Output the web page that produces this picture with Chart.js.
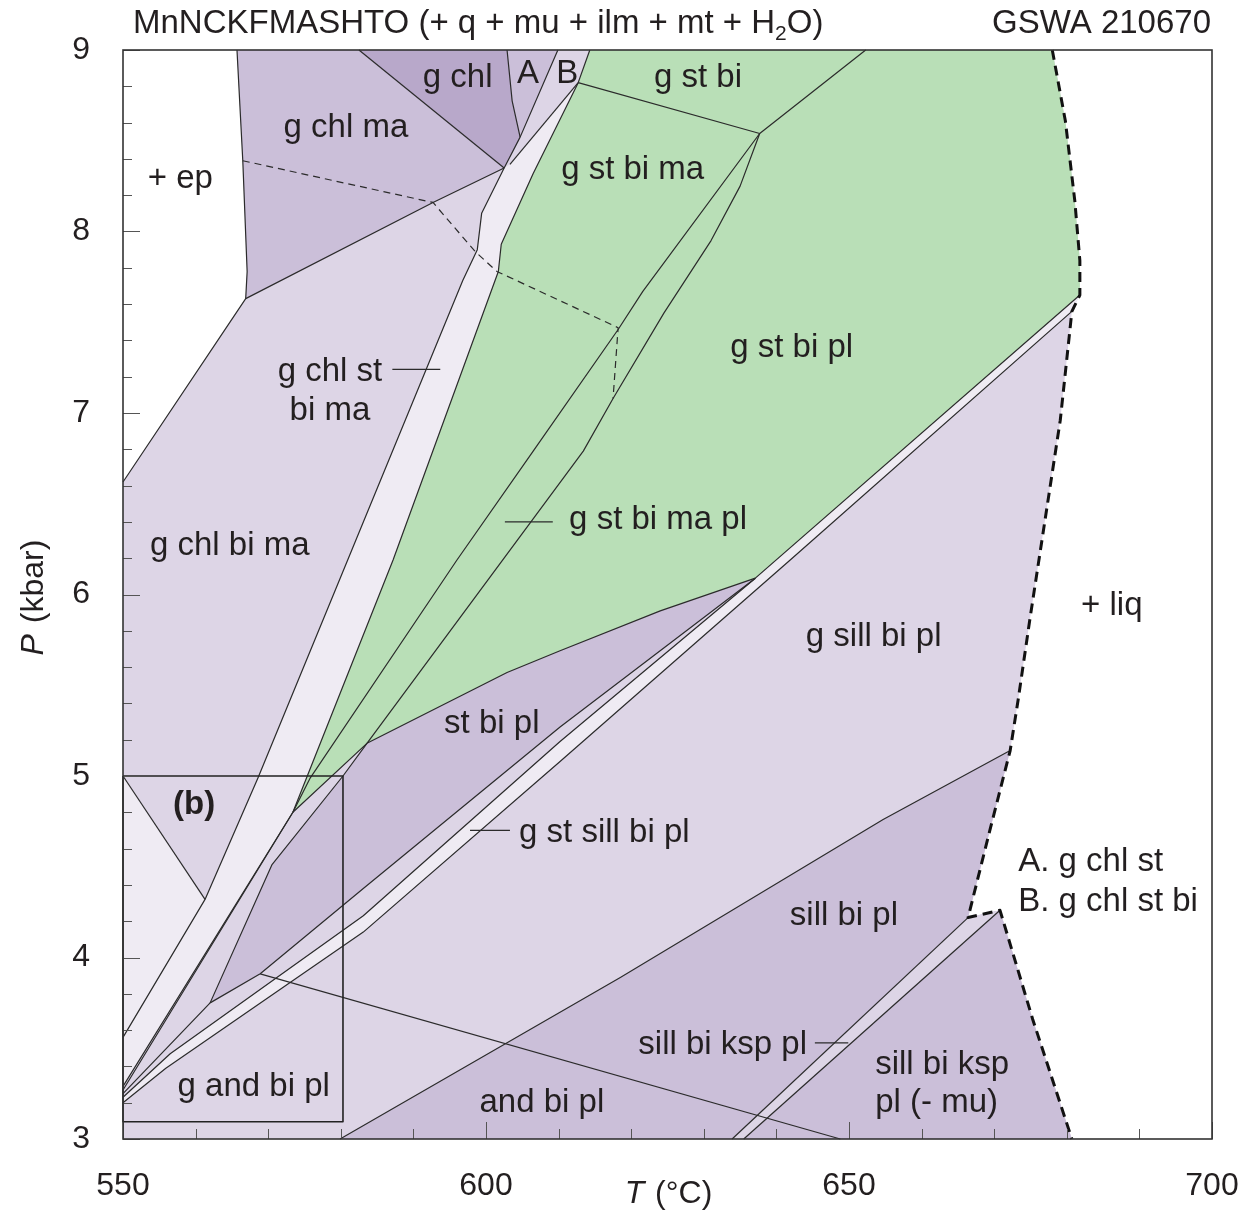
<!DOCTYPE html>
<html><head><meta charset="utf-8">
<script src="https://cdn.jsdelivr.net/npm/chart.js@4.4.1/dist/chart.umd.min.js"></script>
<style>html,body{margin:0;padding:0;background:#fff;}#wrap{width:1247px;height:1211px;position:relative;}</style>
</head><body><div id="wrap"><canvas id="c"></canvas></div>
<script>
// ---------- axes ----------
const T_MIN = 550, T_MAX = 700, P_MIN = 3, P_MAX = 9;
const xTickLabels = [550, 600, 650, 700];
const yTickLabels = [3, 4, 5, 6, 7, 8, 9];
const xMinorStep = 10, yMinorStep = 0.2;

// ---------- phase-field polygons [T (°C), P (kbar)] ----------
const fieldAll = [[565.7,9],[566.5,8.39],[567.1,7.78],[566.9,7.63],[550,6.62],[550,3],[680.7,3],[675.3,3.66],[670.8,4.26],[666.4,4.22],[669.4,4.70],[672.2,5.14],[673.3,5.42],[674.9,5.86],[677.0,6.41],[679.1,6.96],[680.7,7.56],[681.8,7.65],[681.8,7.84],[681.1,8.17],[679.8,8.61],[678.0,9]];
const fieldGChlMa = [[565.7,9],[582.5,9],[602.5,8.35],[592.7,8.16],[566.9,7.63],[567.1,7.78],[566.5,8.39]];
const fieldA = [[602.9,9],[609.9,9],[604.7,8.52],[603.6,8.72]];
const fieldStBiPl = [[583.6,5.18],[602.9,5.57],[610.2,5.69],[624.0,5.91],[637.1,6.09],[610.2,5.27],[583.1,4.38],[568.9,3.91],[562.0,3.75],[570.5,4.51],[580.3,5.00]];
const fieldSillBiPl = [[579.9,3],[618.5,3.89],[654.7,4.76],[672.2,5.14],[669.4,4.70],[666.4,4.22],[670.8,4.26],[675.3,3.66],[680.7,3]];
const fieldGChl = [[582.5,9],[602.9,9],[603.6,8.72],[604.7,8.52],[602.5,8.35]];
const fieldGreen = [[614.3,9],[678.0,9],[679.8,8.61],[681.1,8.17],[681.8,7.84],[681.8,7.65],[637.1,6.09],[624.0,5.91],[610.2,5.69],[602.9,5.57],[583.6,5.18],[573.4,4.80],[587.2,6.19],[601.7,7.78],[602.1,7.93],[606.5,8.32],[612.7,8.82]];
const fieldStrip = [[602.5,8.35],[599.4,8.10],[598.8,7.90],[596.8,7.73],[568.6,4.99],[561.3,4.32],[550,3.56],[550,3.29],[573.4,4.80],[587.2,6.19],[601.7,7.78],[602.1,7.93],[606.5,8.32],[612.7,8.82],[603.3,8.37]];
const fieldLowT = [[550,5.0],[561.3,4.32],[550,3.56]];
const fieldBand = [[681.8,7.65],[637.1,6.09],[610.2,5.19],[583.1,4.23],[556.5,3.47],[550,3.23],[550,3.20],[555.9,3.39],[583.1,4.14],[610.2,5.08],[641.9,6.19],[680.7,7.56]];
const fieldKsp = [[633.9,3],[666.4,4.22],[670.8,4.26],[635.5,3]];

// ---------- boundary lines ----------
const lineEp = [[565.7,9],[566.5,8.39],[567.1,7.78],[566.9,7.63],[550,6.62]];
const lineGChlMaLow = [[566.9,7.63],[592.7,8.16],[602.5,8.35]];
const lineGChlTop = [[582.5,9],[602.5,8.35]];
const lineGChlA = [[602.9,9],[603.6,8.72],[604.7,8.52]];
const lineL1 = [[609.9,9],[604.7,8.52],[602.5,8.35],[599.4,8.10],[598.8,7.90],[596.8,7.73],[568.6,4.99],[561.3,4.32],[550,3.56]];
const lineStripTop = [[612.7,8.82],[603.3,8.37]];
const lineL2 = [[614.3,9],[612.7,8.82],[606.5,8.32],[602.1,7.93],[601.7,7.78],[587.2,6.19],[573.4,4.80],[550,3.29]];
const lineGStBi = [[612.7,8.82],[637.7,8.54],[652.3,9]];
const lineL3 = [[637.7,8.54],[621.6,7.67],[618.2,7.46],[606.5,6.79],[596.0,6.19],[575.8,4.99],[573.4,4.80],[550,3.27]];
const lineL4 = [[637.7,8.54],[635.0,8.25],[631.0,7.95],[624.5,7.55],[617.5,7.08],[613.4,6.79],[583.6,5.18]];
const lineGreenLow = [[681.8,7.65],[637.1,6.09],[624.0,5.91],[610.2,5.69],[602.9,5.57],[583.6,5.18],[573.4,4.80]];
const lineB = [[637.1,6.09],[610.2,5.19],[583.1,4.23],[556.5,3.47],[550,3.23]];
const lineC = [[680.7,7.56],[641.9,6.19],[610.2,5.08],[583.1,4.14],[555.9,3.39],[550,3.20]];
const lineA = [[637.1,6.09],[610.2,5.27],[583.1,4.38],[568.9,3.91],[562.0,3.75],[550,3.25]];
const lineStBiPlLeft = [[583.6,5.18],[580.3,5.00],[570.5,4.51],[562.0,3.75]];
const lineChlOut = [[550,5.0],[561.3,4.32]];
const lineAnd = [[568.9,3.91],[648.8,3]];
const lineGOut = [[579.9,3],[618.5,3.89],[654.7,4.76],[672.2,5.14]];
const lineKsp1 = [[633.9,3],[666.4,4.22]];
const lineKsp2 = [[635.5,3],[670.8,4.26]];
const lineEpDash = [[566.5,8.39],[592.7,8.16],[598.5,7.89],[601.5,7.78],[618.2,7.47],[617.5,7.08]];
const lineLiq = [[678.0,9],[679.8,8.61],[681.1,8.17],[681.8,7.84],[681.8,7.65],[680.7,7.56],[679.1,6.96],[677.0,6.41],[674.9,5.86],[673.3,5.42],[672.2,5.14],[669.4,4.70],[666.4,4.22],[670.8,4.26],[675.3,3.66],[680.7,3]];
const leader1 = [[587.1,7.24],[593.7,7.24]];
const leader2 = [[602.6,6.40],[609.2,6.40]];
const leader3 = [[597.8,4.70],[603.3,4.70]];
const leader4 = [[645.3,3.53],[649.9,3.53]];
const boxB = [[550,5.0],[580.3,5.0],[580.3,3.095],[550,3.095],[550,5.0]];

// ---------- field labels [text, T, P, align, bold] ----------
const fieldLabels = [
 ['g chl',596.1,8.86],['A',605.8,8.88],['B',611.2,8.88],['g st bi',629.2,8.86],
 ['g chl ma',580.7,8.58],['+ ep',557.9,8.30],['g st bi ma',620.2,8.35],['g st bi pl',642.1,7.37],
 ['g chl st',578.5,7.24],['bi ma',578.5,7.02],['g chl bi ma',564.7,6.28],['g st bi ma pl',623.7,6.42],
 ['+ liq',686.2,5.95],['g sill bi pl',653.4,5.78],['st bi pl',600.8,5.30],['(b)',559.8,4.85,'center',true],
 ['g st sill bi pl',616.3,4.70],['A. g chl st',673.3,4.54,'left'],['B. g chl st bi',673.3,4.32,'left'],
 ['sill bi pl',649.3,4.24],['sill bi ksp pl',632.6,3.53],['sill bi ksp',653.6,3.42,'left'],['pl (- mu)',653.6,3.21,'left'],
 ['g and bi pl',568.0,3.30],['and bi pl',607.7,3.21]
];
const titleLeft = ['MnNCKFMASHTO (+ q + mu + ilm + mt + H', '2', 'O)'];
const titleRight = 'GSWA 210670';

// ---------- styles ----------
const FONT = '"Liberation Sans", Arial, Helvetica, sans-serif';
const INK = '#231f20';
const LIGHT = '#ddd5e6', MED = '#cbbfd9', DARK = '#b8a8ca', GREEN = '#b9dfb7', PALE = '#efebf3';

const pts = a => a.map(([x, y]) => ({x, y}));
const closed = a => pts(a.concat([a[0]]));

const layers = [];
[[fieldAll,LIGHT],[fieldGChlMa,MED],[fieldA,MED],[fieldStBiPl,MED],[fieldSillBiPl,MED],[fieldGChl,DARK],
 [fieldGreen,GREEN],[fieldStrip,PALE],[fieldLowT,PALE],[fieldBand,PALE],[fieldKsp,LIGHT]].forEach(([f,c]) => {
  layers.push({data: closed(f), backgroundColor: c, borderColor: 'rgba(0,0,0,0)', borderWidth: 0, fill: 'shape'});
});
[lineEp,lineGChlMaLow,lineGChlTop,lineGChlA,lineL1,lineStripTop,lineL2,lineGStBi,lineL3,lineL4,lineGreenLow,
 lineB,lineC,lineA,lineStBiPlLeft,lineChlOut,lineAnd,lineGOut,lineKsp1,lineKsp2,leader1,leader2,leader3,leader4].forEach(l => {
  layers.push({data: pts(l), borderColor: '#2b2b2b', borderWidth: 1.2, fill: false});
});
layers.push({data: pts(lineEpDash), borderColor: '#2b2b2b', borderWidth: 1.2, borderDash: [7,5], fill: false});
layers.push({data: pts(lineLiq), borderColor: '#111', borderWidth: 3, borderDash: [10,6], fill: false});
layers.push({data: pts(boxB), borderColor: '#222', borderWidth: 1.6, fill: false});
const N = layers.length;
layers.forEach((d, i) => { d.order = N - i; d.pointRadius = 0; d.tension = 0; d.clip = false; });

const decor = {
  id: 'decor',
  afterDatasetsDraw(chart) {
    const {ctx, chartArea: a, scales: {x, y}} = chart;
    ctx.save();
    // inward ticks
    ctx.strokeStyle = '#555'; ctx.lineWidth = 1;
    const nY = Math.round((P_MAX - P_MIN) / yMinorStep);
    for (let i = 0; i <= nY; i++) {
      const v = P_MIN + i * yMinorStep, py = Math.round(y.getPixelForValue(v)) + 0.5;
      const len = (i % 5 === 0) ? 17 : 9;
      ctx.beginPath(); ctx.moveTo(a.left, py); ctx.lineTo(a.left + len, py); ctx.stroke();
    }
    for (let t = T_MIN; t <= T_MAX; t += xMinorStep) {
      const px = Math.round(x.getPixelForValue(t)) + 0.5;
      const len = (t % 50 === 0) ? 17 : 10;
      ctx.beginPath(); ctx.moveTo(px, a.bottom); ctx.lineTo(px, a.bottom - len); ctx.stroke();
    }
    // frame
    ctx.strokeStyle = '#333'; ctx.lineWidth = 1.6;
    ctx.strokeRect(a.left, a.top, a.right - a.left, a.bottom - a.top);
    // field labels
    ctx.fillStyle = INK; ctx.textBaseline = 'middle';
    for (const [t, T, P, al, b] of fieldLabels) {
      ctx.font = (b ? 'bold ' : '') + '33px ' + FONT;
      ctx.textAlign = al || 'center';
      ctx.fillText(t, x.getPixelForValue(T), y.getPixelForValue(P) + 2);
    }
    // title
    ctx.textBaseline = 'alphabetic'; ctx.textAlign = 'left';
    ctx.font = '33px ' + FONT;
    let tx = a.left + 10; const ty = a.top - 17;
    ctx.fillText(titleLeft[0], tx, ty); tx += ctx.measureText(titleLeft[0]).width;
    ctx.font = '21px ' + FONT; ctx.fillText(titleLeft[1], tx, ty + 7); tx += ctx.measureText(titleLeft[1]).width;
    ctx.font = '33px ' + FONT; ctx.fillText(titleLeft[2], tx, ty);
    ctx.textAlign = 'right'; ctx.fillText(titleRight, a.right - 1, ty);
    // axis titles
    const drawMixed = (cx, cy, it, rest) => {
      ctx.font = 'italic 32px ' + FONT; const w1 = ctx.measureText(it).width;
      ctx.font = '32px ' + FONT; const w2 = ctx.measureText(rest).width;
      let sx = cx - (w1 + w2) / 2;
      ctx.textAlign = 'left';
      ctx.font = 'italic 32px ' + FONT; ctx.fillText(it, sx, cy);
      ctx.font = '32px ' + FONT; ctx.fillText(rest, sx + w1 + 2, cy);
    };
    drawMixed((a.left + a.right) / 2, a.bottom + 64, 'T', ' (°C)');
    ctx.save(); ctx.translate(43, (a.top + a.bottom) / 2 + 4); ctx.rotate(-Math.PI / 2);
    drawMixed(0, 0, 'P', ' (kbar)'); ctx.restore();
    ctx.restore();
  }
};

new Chart(document.getElementById('c'), {
  type: 'line',
  data: {datasets: layers},
  options: {
    responsive: true, maintainAspectRatio: false, animation: false, events: [],
    layout: {padding: {top: 50, right: 35, left: 0, bottom: 0}},
    plugins: {legend: {display: false}, tooltip: {enabled: false}, filler: {propagate: false}},
    elements: {point: {radius: 0}, line: {tension: 0, borderJoinStyle: 'round'}},
    scales: {
      x: {type: 'linear', min: T_MIN, max: T_MAX,
          afterFit: s => { s.height = 72; s.paddingLeft = 0; s.paddingRight = 0; },
          afterBuildTicks: s => { s.ticks = xTickLabels.map(v => ({value: v})); },
          ticks: {padding: 28, color: INK, font: {size: 32, family: FONT}, maxRotation: 0, autoSkip: false},
          grid: {display: false, drawTicks: false}, border: {display: false}},
      y: {type: 'linear', min: P_MIN, max: P_MAX,
          afterFit: s => { s.width = 123; s.paddingTop = 0; s.paddingBottom = 0; },
          afterBuildTicks: s => { s.ticks = yTickLabels.map(v => ({value: v})); },
          ticks: {padding: 33, color: INK, font: {size: 32, family: FONT}, autoSkip: false},
          grid: {display: false, drawTicks: false}, border: {display: false}}
    }
  },
  plugins: [decor]
});
</script></body></html>
